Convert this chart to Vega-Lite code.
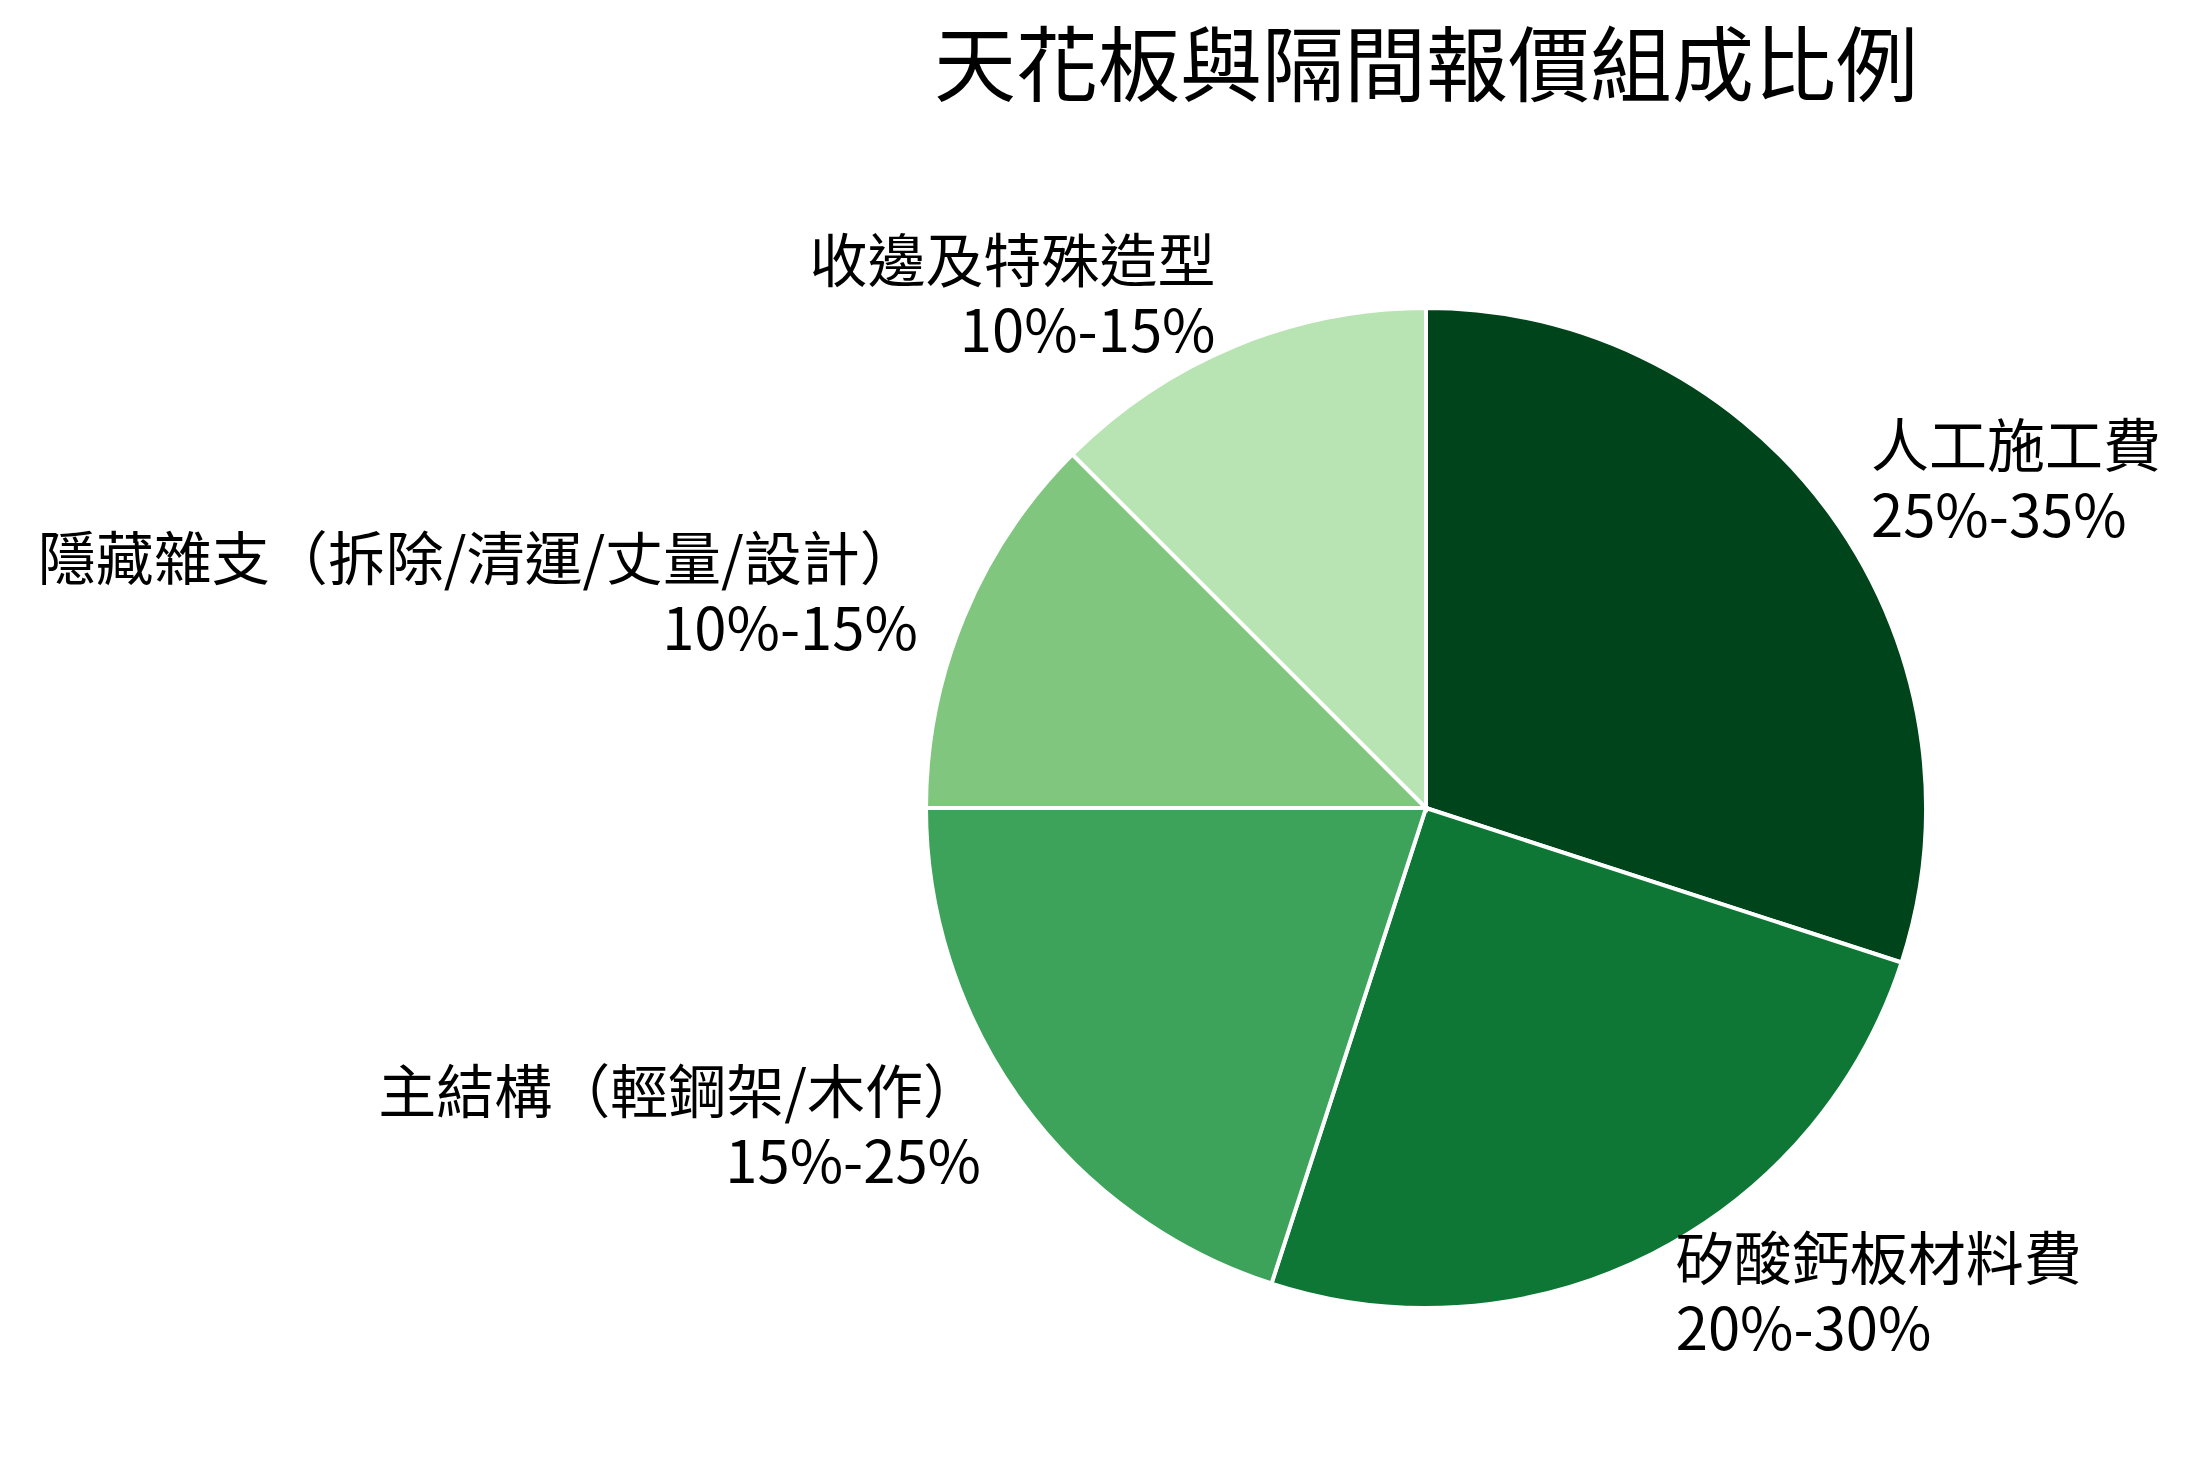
{
  "$schema": "https://vega.github.io/schema/vega-lite/v6.json",
  "autosize": {"type": "none"},
  "width": 1000,
  "height": 1000,
  "padding": {"left": 926, "top": 308, "right": 270, "bottom": 160},
  "background": "white",
  "config": {"view": {"stroke": null}, "font": "Noto Sans CJK TC"},
  "title": {
    "text": "天花板與隔間報價組成比例",
    "font": "Noto Sans CJK TC",
    "fontSize": 82,
    "fontWeight": "normal",
    "color": "black",
    "anchor": "middle",
    "frame": "group",
    "offset": 124
  },
  "data": {
    "values": [
      {"order": 1, "項目": "人工施工費", "範圍": "25%-35%", "比例": 30},
      {"order": 2, "項目": "矽酸鈣板材料費", "範圍": "20%-30%", "比例": 25},
      {"order": 3, "項目": "主結構（輕鋼架/木作）", "範圍": "15%-25%", "比例": 20},
      {"order": 4, "項目": "隱藏雜支（拆除/清運/丈量/設計）", "範圍": "10%-15%", "比例": 12.5},
      {"order": 5, "項目": "收邊及特殊造型", "範圍": "10%-15%", "比例": 12.5}
    ]
  },
  "transform": [
    {"stack": "比例", "groupby": [], "sort": [{"field": "order"}], "as": ["v0", "v1"]},
    {"calculate": "(datum.v0 + datum.v1) / 2", "as": "mid"},
    {"calculate": "datum['項目'] + '\\n' + datum['範圍']", "as": "label"}
  ],
  "layer": [
    {
      "mark": {"type": "arc", "stroke": "white", "strokeWidth": 4},
      "encoding": {
        "theta": {"field": "v0", "type": "quantitative", "scale": {"domain": [0, 100]}},
        "theta2": {"field": "v1"},
        "color": {
          "field": "項目",
          "type": "nominal",
          "scale": {
            "domain": ["人工施工費", "矽酸鈣板材料費", "主結構（輕鋼架/木作）", "隱藏雜支（拆除/清運/丈量/設計）", "收邊及特殊造型"],
            "range": ["#00441b", "#0e7735", "#3da35a", "#80c67f", "#b8e3b2"]
          },
          "legend": null
        }
      }
    },
    {
      "transform": [{"filter": "datum.order <= 2"}],
      "mark": {"type": "text", "radius": 550, "align": "left", "baseline": "middle", "dy": -35, "fontSize": 58, "lineHeight": 70, "lineBreak": "\n", "font": "Noto Sans CJK TC", "color": "black"},
      "encoding": {
        "theta": {"field": "mid", "type": "quantitative", "scale": {"domain": [0, 100]}},
        "text": {"field": "label"}
      }
    },
    {
      "transform": [{"filter": "datum.order > 2"}],
      "mark": {"type": "text", "radius": 550, "align": "right", "baseline": "middle", "dy": -35, "fontSize": 58, "lineHeight": 70, "lineBreak": "\n", "font": "Noto Sans CJK TC", "color": "black"},
      "encoding": {
        "theta": {"field": "mid", "type": "quantitative", "scale": {"domain": [0, 100]}},
        "text": {"field": "label"}
      }
    }
  ]
}
